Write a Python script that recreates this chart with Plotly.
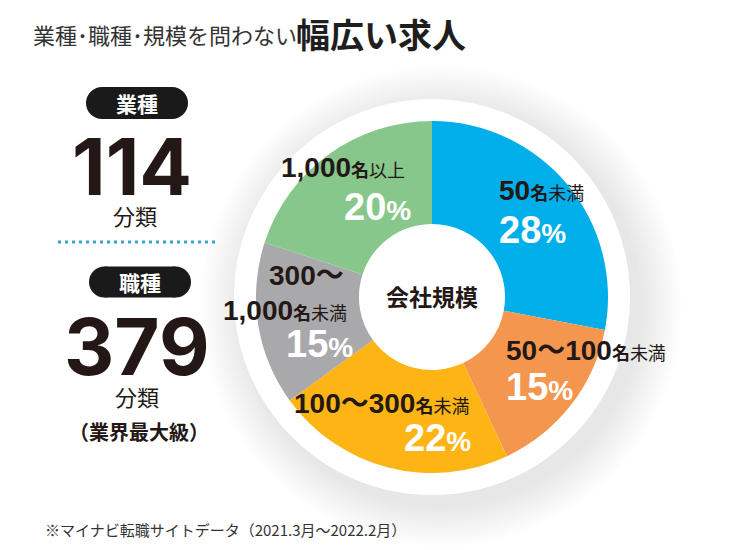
import plotly.graph_objects as go

# data
sizes = ['50名未満', '50～100名未満', '100～300名未満', '300～1,000名未満', '1,000名以上']
shares = [28, 15, 22, 15, 20]
slice_colors = ['#00aeea', '#f5964f', '#fcb515', '#a9a9ac', '#87c78b']
industries = 114
occupations = 379

W, H = 732, 550
OFF = 8  # the page body margin shifts the figure by 8px
CX, CY, R = 432, 297, 176
JP = 'Noto Sans CJK JP'
LAT = 'Liberation Sans, Noto Sans CJK JP'
INK = '#231815'

fig = go.Figure()

# invisible cartesian layer in page pixel units, for shapes and annotations
fig.add_trace(go.Scatter(x=[None], y=[None], showlegend=False, hoverinfo='skip'))

fig.add_trace(go.Pie(
    labels=sizes,
    values=shares,
    sort=False,
    direction='clockwise',
    rotation=0,
    hole=0.415,
    marker=dict(colors=slice_colors, line=dict(width=0)),
    textinfo='none',
    hoverinfo='skip',
    showlegend=False,
    domain=dict(x=[(CX - OFF - R) / W, (CX - OFF + R) / W],
                y=[(H - (CY - OFF) - R) / H, (H - (CY - OFF) + R) / H]),
))

shapes = []
# soft shadow under the white disc
for k in range(12):
    r = 240 - k * 3.5
    shapes.append(dict(type='circle', xref='x', yref='y', layer='below',
                       x0=CX + 9 - r, x1=CX + 9 + r, y0=CY + 9 - r, y1=CY + 9 + r,
                       fillcolor='rgba(90,90,110,0.011)', line=dict(width=0)))
shapes.append(dict(type='circle', xref='x', yref='y', layer='below',
                   x0=CX - 198, x1=CX + 198, y0=CY - 198, y1=CY + 198,
                   fillcolor='white', line=dict(width=0)))


def pill(xc, yc, w, h):
    r = h / 2
    out = [dict(type='rect', xref='x', yref='y', layer='below',
                x0=xc - w / 2 + r, x1=xc + w / 2 - r, y0=yc - r, y1=yc + r,
                fillcolor='#1a1a1a', line=dict(width=0))]
    for ex in (xc - w / 2 + r, xc + w / 2 - r):
        out.append(dict(type='circle', xref='x', yref='y', layer='below',
                        x0=ex - r, x1=ex + r, y0=yc - r, y1=yc + r,
                        fillcolor='#1a1a1a', line=dict(width=0)))
    return out


shapes += pill(137, 103, 102, 32)
shapes += pill(140, 282, 102, 31)
# dotted separator
shapes.append(dict(type='line', xref='x', yref='y', x0=58, x1=218, y0=242, y1=242,
                   line=dict(color='#3aa3d4', width=3, dash='3px,4px')))

ann = []


def txt(x, y, text, size, color=INK, family=LAT, xanchor='left'):
    ann.append(dict(xref='x', yref='y', x=x, y=y, text=text, showarrow=False,
                    xanchor=xanchor, yanchor='middle',
                    font=dict(family=family, size=size, color=color)))


def span(s, size):
    return f"<span style='font-size:{size}px'>{s}</span>"


# title
txt(31, 34, '業種･職種･規模を問わない', 22, color='#333333', family=JP)
txt(294, 33, '<b>幅広い求人</b>', 34, color='#1e1e1e', family=JP)

# left panel
txt(137, 103, '<b>業種</b>', 21, color='white', family=JP, xanchor='center')
txt(132, 166, f'<b>{industries}</b>', 78, family='Inter, Liberation Sans', xanchor='center')
txt(135, 215, '分類', 22, family=JP, xanchor='center')
txt(140, 282, '<b>職種</b>', 21, color='white', family=JP, xanchor='center')
txt(137, 346, f'<b>{occupations}</b>', 78, family='Inter, Liberation Sans', xanchor='center')
txt(137, 396, '分類', 22, family=JP, xanchor='center')
txt(139, 431, '<b>（業界最大級）</b>', 20, family=JP, xanchor='center')

# donut labels
pct = lambda v: f"<b>{span(v, 38)}{span('%', 28)}</b>"
cat = lambda num, rest: f"<b>{span(num, 28)}{span('名', 18)}</b>{span(rest, 18)}"

txt(432, 296, '<b>会社規模</b>', 23, family=JP, xanchor='center')
txt(497, 190, cat('50', '未満'), 28)
txt(497, 230, pct(shares[0]), 38, color='white')
txt(504, 350, cat('50～100', '未満'), 28)
txt(504, 387, pct(shares[1]), 38, color='white')
txt(292, 403, cat('100～300', '未満'), 28)
txt(402, 438, pct(shares[2]), 38, color='white')
txt(267, 275, f"<b>{span('300～', 28)}</b>", 28)
txt(349, 310, cat('1,000', '未満'), 28, xanchor='right')
txt(284, 344, pct(shares[3]), 38, color='white')
txt(279, 167, cat('1,000', '以上'), 28)
txt(342, 207, pct(shares[4]), 38, color='white')

# footnote
txt(43, 529, '※マイナビ転職サイトデータ（2021.3月～2022.2月）', 15, color='#333333', family=JP)

fig.update_layout(
    width=W, height=H,
    margin=dict(l=0, r=0, t=0, b=0),
    paper_bgcolor='white', plot_bgcolor='white',
    xaxis=dict(range=[OFF, W + OFF], visible=False, fixedrange=True, domain=[0, 1]),
    yaxis=dict(range=[H + OFF, OFF], visible=False, fixedrange=True, domain=[0, 1]),
    shapes=shapes,
    annotations=ann,
    showlegend=False,
)

fig.write_html('out.html')
